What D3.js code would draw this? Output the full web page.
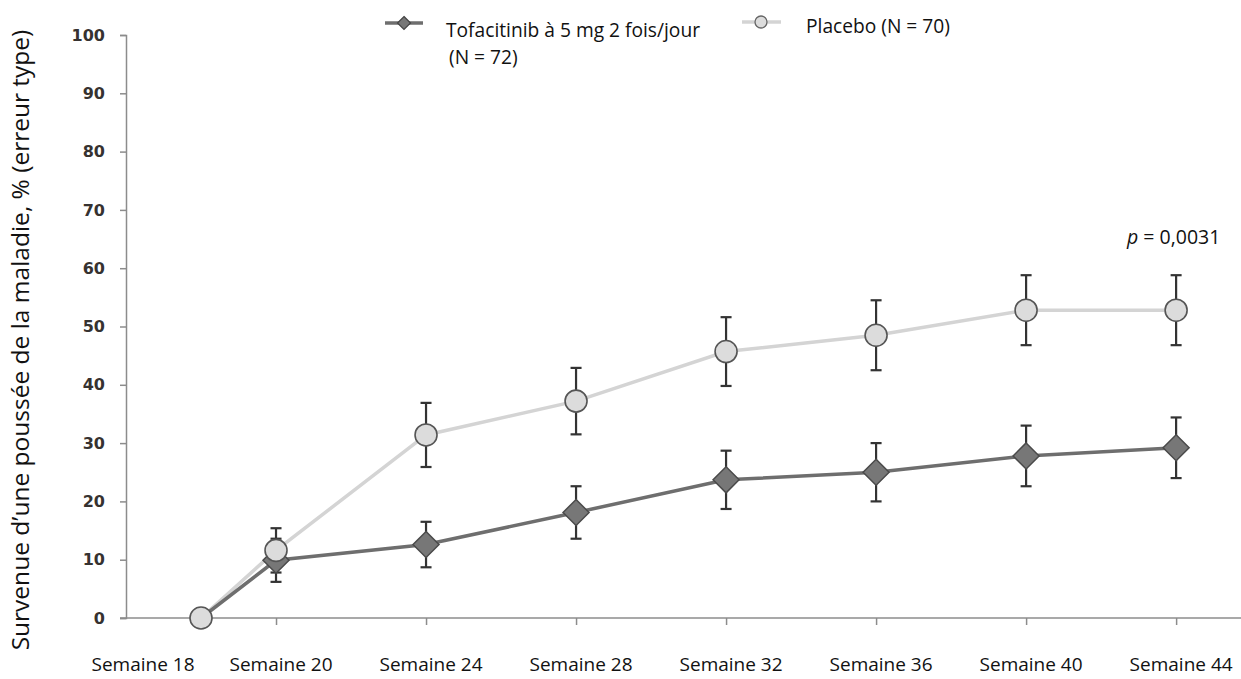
<!DOCTYPE html>
<html><head><meta charset="utf-8">
<script src="https://cdn.jsdelivr.net/npm/d3@7"></script>
<style>body{margin:0;background:#fff}svg{display:block}</style>
</head><body><svg id="c" width="1241" height="679"></svg>
<script>
const weeks = [18, 20, 24, 28, 32, 36, 40, 44];
const weekLabels = ["Semaine 18","Semaine 20","Semaine 24","Semaine 28","Semaine 32","Semaine 36","Semaine 40","Semaine 44"];
const tofaValues = [0, 9.9, 12.6, 18.1, 23.7, 25.0, 27.8, 29.2];
const tofaErr    = [0, 3.7, 3.9, 4.5, 5.0, 5.0, 5.2, 5.2];
const placeboValues = [0, 11.6, 31.4, 37.2, 45.7, 48.5, 52.8, 52.8];
const placeboErr    = [0, 3.8, 5.5, 5.7, 5.9, 6.0, 6.0, 6.0];
const yTicks = [0,10,20,30,40,50,60,70,80,90,100];
const xTickWeeks = [20, 24, 28, 32, 36, 40, 44];

const svg = d3.select("#c");
const x = d3.scaleLinear().domain([16, 45.73]).range([126, 1241]);
const y = d3.scaleLinear().domain([0, 100]).range([618, 35]);
const F = "'Open Sans', sans-serif";

// Y axis
const yAxis = svg.append("g").attr("transform","translate(126,0)")
  .call(d3.axisLeft(y).tickValues(yTicks).tickSize(6).tickPadding(15));
yAxis.select(".domain").attr("stroke","#8c8c8c").attr("stroke-width",1.5);
yAxis.selectAll(".tick line").attr("stroke","#8c8c8c").attr("stroke-width",1.5);
yAxis.selectAll(".tick text").attr("font-family","'DejaVu Sans', Verdana, sans-serif")
  .attr("font-weight","bold").attr("font-size",16).attr("fill","#363230");

// X axis
const xAxis = svg.append("g").attr("transform","translate(0,618)")
  .call(d3.axisBottom(x).tickValues(xTickWeeks).tickSize(7).tickFormat(""));
xAxis.select(".domain").attr("d","M120,0H1241").attr("stroke","#8c8c8c").attr("stroke-width",1.5);
xAxis.selectAll(".tick line").attr("stroke","#8c8c8c").attr("stroke-width",1.5);

// X labels
svg.append("g").selectAll("text").data(weeks).join("text")
  .attr("x",(d,i)=> i===0 ? x(d)-58 : x(d)+5)
  .attr("y",671)
  .attr("text-anchor","middle")
  .attr("font-family",F).attr("font-size",19).attr("fill","#111")
  .text((d,i)=>weekLabels[i]);

// Y title
svg.append("text")
  .attr("transform","translate(29,340) rotate(-90)")
  .attr("text-anchor","middle")
  .attr("font-family",F).attr("font-size",24.5).attr("fill","#111")
  .text("Survenue d\u2019une poussée de la maladie, % (erreur type)");

const line = d3.line().x((d,i)=>x(weeks[i])).y(d=>y(d));

// Lines
svg.append("path").datum(placeboValues).attr("d",line)
  .attr("fill","none").attr("stroke","#d4d4d4").attr("stroke-width",3.5);
svg.append("path").datum(tofaValues).attr("d",line)
  .attr("fill","none").attr("stroke","#6e6e6e").attr("stroke-width",3.5);

function errBars(vals, errs){
  const g = svg.append("g").attr("stroke","#333").attr("stroke-width",2.2);
  vals.forEach((v,i)=>{
    if(errs[i]<=0) return;
    const cx = x(weeks[i]);
    g.append("line").attr("x1",cx).attr("x2",cx).attr("y1",y(v-errs[i])).attr("y2",y(v+errs[i]));
    [v-errs[i], v+errs[i]].forEach(e=>{
      g.append("line").attr("x1",cx-5.5).attr("x2",cx+5.5).attr("y1",y(e)).attr("y2",y(e));
    });
  });
}
errBars(placeboValues, placeboErr);
errBars(tofaValues, tofaErr);

// Tofa markers (diamond) — baseline point is hidden under the placebo marker
const diamond = r => `M0,${-r}L${r},0L0,${r}L${-r},0Z`;
svg.append("g").selectAll("path").data(tofaValues.map((v,i)=>({v,i})).filter(d=>d.i>0)).join("path")
  .attr("transform",d=>`translate(${x(weeks[d.i])},${y(d.v)})`)
  .attr("d",diamond(13)).attr("fill","#777").attr("stroke","#4a4a4a").attr("stroke-width",1.5);

// Placebo markers (circle)
svg.append("g").selectAll("circle").data(placeboValues).join("circle")
  .attr("cx",(d,i)=>x(weeks[i])).attr("cy",d=>y(d)).attr("r",11)
  .attr("fill","#dcdcdc").attr("stroke","#555").attr("stroke-width",1.6);

// Legend
const lg = svg.append("g");
lg.append("line").attr("x1",385).attr("x2",423).attr("y1",23).attr("y2",23).attr("stroke","#6e6e6e").attr("stroke-width",3.5);
lg.append("path").attr("transform","translate(404,23)").attr("d",diamond(6.5)).attr("fill","#777").attr("stroke","#444").attr("stroke-width",1.2);
lg.append("text").attr("x",446).attr("y",37).attr("font-family",F).attr("font-size",19.2).attr("fill","#111").text("Tofacitinib à 5 mg 2 fois/jour");
lg.append("text").attr("x",449).attr("y",64).attr("font-family",F).attr("font-size",19.2).attr("fill","#111").text("(N = 72)");
lg.append("line").attr("x1",742).attr("x2",781).attr("y1",22).attr("y2",22).attr("stroke","#d4d4d4").attr("stroke-width",3.5);
lg.append("circle").attr("cx",761).attr("cy",22).attr("r",6).attr("fill","#dcdcdc").attr("stroke","#666").attr("stroke-width",1.3);
lg.append("text").attr("x",806).attr("y",33).attr("font-family",F).attr("font-size",19.2).attr("fill","#111").text("Placebo (N = 70)");

// p-value
const pt = svg.append("text").attr("x",1127).attr("y",244).attr("font-family",F).attr("font-size",19.5).attr("fill","#111");
pt.append("tspan").attr("font-style","italic").text("p");
pt.append("tspan").text(" = 0,0031");
</script></body></html>
